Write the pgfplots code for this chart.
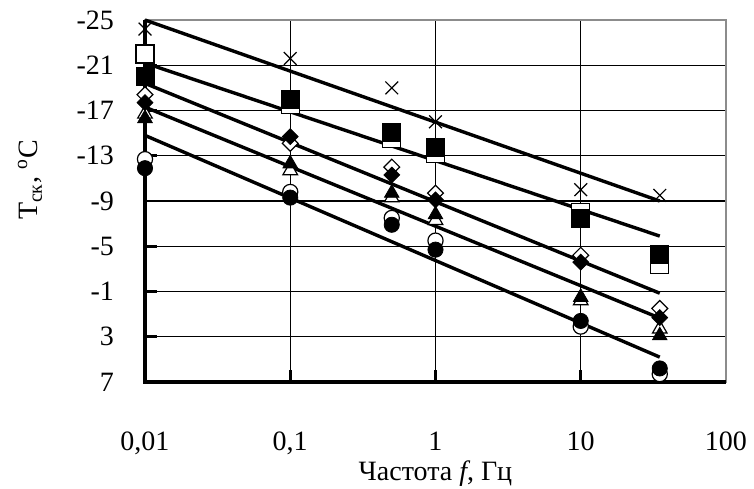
\documentclass[border=0pt]{standalone}
\usepackage{pgfplots}
\pgfplotsset{compat=1.18}
\usepackage{fontspec}
\setmainfont{Liberation Serif}
\begin{document}
\begin{tikzpicture}
\begin{axis}[
  at={(0,0)}, anchor=south west,
  scale only axis, width=290.5pt, height=181pt,
  xmode=log, xmin=0.01, xmax=100,
  ymin=-25, ymax=7, y dir=reverse,
  xtick={0.01,0.1,1,10,100},
  xticklabels={{0,01},{0,1},1,10,100},
  ytick={-25,-21,-17,-13,-9,-5,-1,3,7},
  xminorticks=false,
  /pgf/number format/assume math mode=true,
  grid=major,
  major grid style={black, line width=0.6pt},
  axis line style={black!45, line width=0.8pt},
  tick pos=left, tick align=inside,
  major tick length=6pt,
  tick style={black, line width=1.4pt},
  tick label style={font=\fontsize{14}{16}\selectfont},
  label style={font=\fontsize{14}{16}\selectfont},
  xticklabel style={anchor=base, yshift=-34pt},
  yticklabel style={xshift=-12pt},
  xlabel={Частота \textit{f}, Гц},
  ylabel={T\textsubscript{ск}, \textsuperscript{o}C},
  xlabel style={at={(axis description cs:0.5,-0.2707)}, anchor=base},
  ylabel style={at={(axis description cs:-0.198,0.558)}, anchor=center},
  clip=false,
]
% crosses
\addplot[only marks, mark=x, mark size=4.5pt, mark options={draw=black, line width=0.6pt}]
  coordinates {(0.01,-24.2) (0.1,-21.6) (0.5,-19.0) (1,-16.0) (10,-10.0) (35,-9.5)};
% open markers
\addplot[only marks, mark=square*, mark size=4.5pt, mark options={fill=white, draw=black, line width=0.6pt}]
  coordinates {(0.01,-22.0) (0.1,-17.5) (0.5,-14.5) (1,-13.2) (10,-8.0) (35,-3.4)};
\addplot[only marks, mark=square*, mark size=2.8pt, mark options={rotate=45, fill=white, draw=black, line width=0.6pt}]
  coordinates {(0.01,-18.4) (0.1,-14.1) (0.5,-12.0) (1,-9.7) (10,-4.2) (35,0.5)};
\addplot[only marks, mark=triangle*, mark size=4.2pt, mark options={fill=white, draw=black, line width=0.6pt}]
  coordinates {(0.01,-16.7) (0.1,-11.7) (0.5,-9.3) (1,-7.3) (10,-0.2) (35,2.3)};
\addplot[only marks, mark=*, mark size=3.8pt, mark options={fill=white, draw=black, line width=0.6pt}]
  coordinates {(0.01,-12.7) (0.1,-9.8) (0.5,-7.5) (1,-5.5) (10,2.1) (35,6.3)};
% filled markers
\addplot[only marks, mark=square*, mark size=4.5pt, mark options={fill=black, draw=black}]
  coordinates {(0.01,-20.0) (0.1,-18.0) (0.5,-15.1) (1,-13.7) (10,-7.5) (35,-4.3)};
\addplot[only marks, mark=square*, mark size=2.8pt, mark options={rotate=45, fill=black, draw=black}]
  coordinates {(0.01,-17.7) (0.1,-14.7) (0.5,-11.3) (1,-9.1) (10,-3.6) (35,1.3)};
\addplot[only marks, mark=triangle*, mark size=4.2pt, mark options={fill=black, draw=black}]
  coordinates {(0.01,-16.3) (0.1,-12.3) (0.5,-9.7) (1,-7.8) (10,-0.5) (35,2.9)};
\addplot[only marks, mark=*, mark size=3.8pt, mark options={fill=black, draw=black}]
  coordinates {(0.01,-11.9) (0.1,-9.3) (0.5,-6.9) (1,-4.7) (10,1.6) (35,5.8)};
% trend lines
\addplot[black, line width=1.7pt, no marks] coordinates {(0.01,-25.0) (35,-9.0)};
\addplot[black, line width=1.7pt, no marks] coordinates {(0.01,-21.2) (35,-5.9)};
\addplot[black, line width=1.7pt, no marks] coordinates {(0.01,-19.4) (35,-0.85)};
\addplot[black, line width=1.7pt, no marks] coordinates {(0.01,-17.3) (35,1.35)};
\addplot[black, line width=1.7pt, no marks] coordinates {(0.01,-14.8) (35,4.8)};
% thick left and bottom axis lines
\draw[black, line width=1.6pt] (axis description cs:0,1) -- (axis description cs:0,0) -- (axis description cs:1,0);
\end{axis}
\pgfresetboundingbox
\path (-72.5pt,-53pt) rectangle (304.5pt,191pt);
\end{tikzpicture}
\end{document}
